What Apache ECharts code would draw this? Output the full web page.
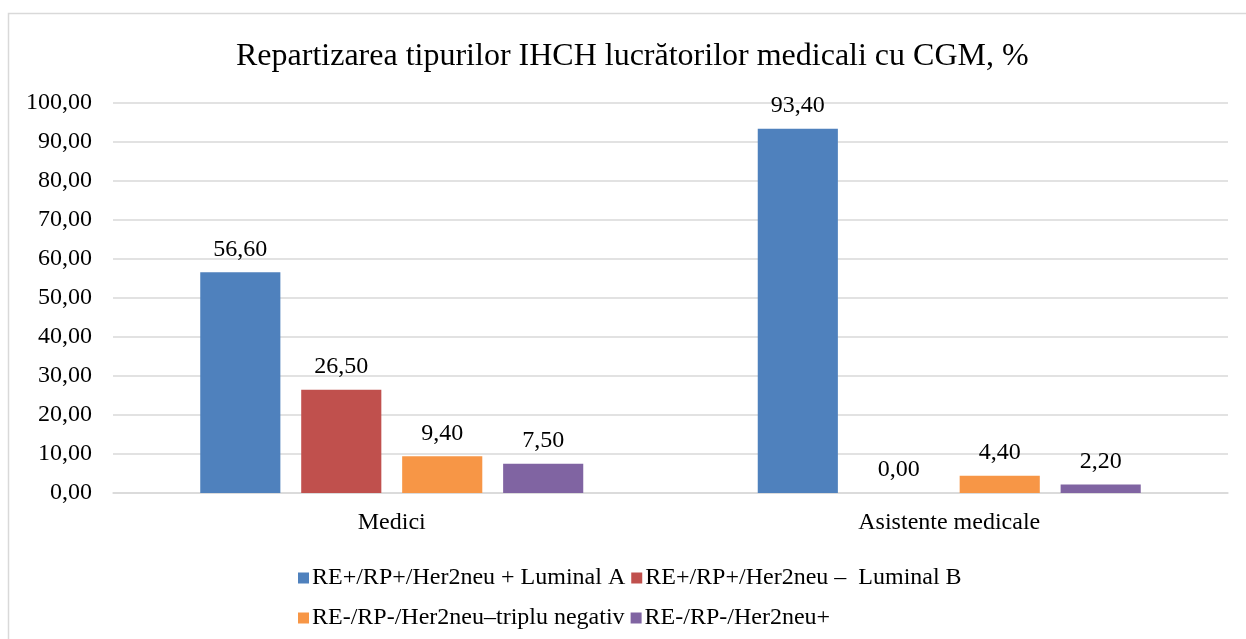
<!DOCTYPE html>
<html>
<head>
<meta charset="utf-8">
<script src="https://cdn.jsdelivr.net/npm/echarts@6/dist/echarts.min.js"></script>
<style>
html,body{margin:0;padding:0;background:#fff;}
#chart{width:1246px;height:639px;}
</style>
</head>
<body>
<div id="chart"></div>
<script>
var titleText = 'Repartizarea tipurilor IHCH lucrătorilor medicali cu CGM, %';
var categories = ['Medici', 'Asistente medicale'];
var seriesNames = [
  'RE+/RP+/Her2neu + Luminal A',
  'RE+/RP+/Her2neu \u2013  Luminal B',
  'RE-/RP-/Her2neu\u2013triplu negativ',
  'RE-/RP-/Her2neu+'
];
var luminalA = [56.6, 93.4];
var luminalB = [26.5, 0.0];
var triplu = [9.4, 4.4];
var her2 = [7.5, 2.2];
var colors = ['#4F81BD', '#C0504D', '#F79646', '#8064A2'];

var font = '"Liberation Serif", "Times New Roman", serif';
function fmt(v){ return Number(v).toFixed(2).replace('.', ','); }

var allData = [luminalA, luminalB, triplu, her2];
var series = allData.map(function(d, i){
  return {
    name: seriesNames[i],
    type: 'bar',
    data: d,
    barGap: '26%',
    barCategoryGap: '31.3%',
    itemStyle: { color: colors[i] },
    label: {
      show: true,
      position: 'top',
      distance: 11,
      color: '#000',
      fontFamily: font,
      fontSize: 24,
      formatter: function(p){ return fmt(p.value); }
    }
  };
});

var chart = echarts.init(document.getElementById('chart'), null, {renderer: 'canvas'});
chart.setOption({
  backgroundColor: '#fff',
  animation: false,
  color: colors,
  graphic: [{
    type: 'rect',
    shape: { x: 8.5, y: 13.5, width: 1400, height: 800 },
    style: { fill: 'none', stroke: '#d9d9d9', lineWidth: 1.5 },
    silent: true, z: -10
  }],
  title: {
    text: titleText,
    left: 231,
    top: 36,
    textStyle: { fontFamily: font, fontSize: 32, fontWeight: 'normal', color: '#000' }
  },
  legend: [{
    data: seriesNames.slice(0, 2),
    left: 293,
    top: 561,
    itemWidth: 11, itemHeight: 11, itemGap: 6,
    icon: 'rect',
    textStyle: { fontFamily: font, fontSize: 24, color: '#000', padding: [0,0,0,-2] }
  }, {
    data: seriesNames.slice(2, 4),
    left: 293,
    top: 601,
    itemWidth: 11, itemHeight: 11, itemGap: 6,
    icon: 'rect',
    textStyle: { fontFamily: font, fontSize: 24, color: '#000', padding: [0,0,0,-2] }
  }],
  grid: { left: 113, right: 18, top: 103, bottom: 146 },
  xAxis: {
    type: 'category',
    data: categories,
    axisTick: { show: false },
    axisLine: { lineStyle: { color: '#d9d9d9', width: 1.5 } },
    axisLabel: { fontFamily: font, fontSize: 24, color: '#000', margin: 18 }
  },
  yAxis: {
    type: 'value',
    min: 0, max: 100, interval: 10,
    axisLine: { show: false },
    axisTick: { show: false },
    splitLine: { lineStyle: { color: '#d9d9d9', width: 1.5 } },
    axisLabel: { fontFamily: font, fontSize: 24, color: '#000', margin: 21, formatter: fmt }
  },
  series: series
});
</script>
</body>
</html>
